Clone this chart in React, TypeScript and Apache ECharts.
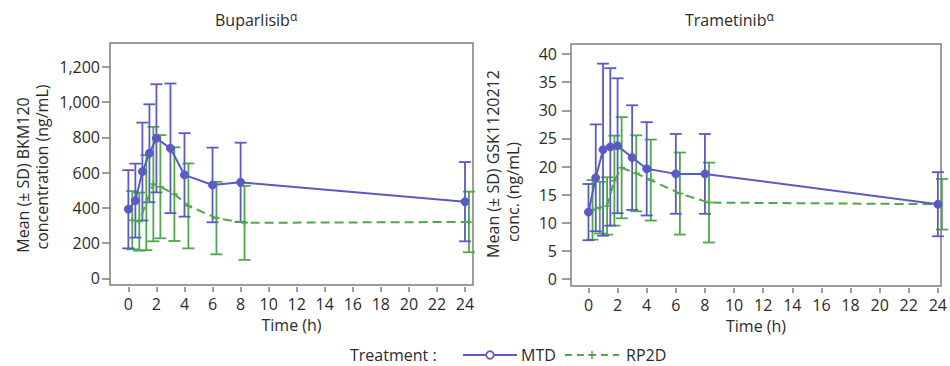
import React, { useEffect, useRef } from "react";
import * as echarts from "echarts";

// ---------- data ----------
const TIMES = [0, 0.5, 1, 1.5, 2, 3, 4, 6, 8, 24];
const X_TICKS = [0, 2, 4, 6, 8, 10, 12, 14, 16, 18, 20, 22, 24];

const BUP_Y_TICKS = [0, 200, 400, 600, 800, 1000, 1200];
const BUP_MTD_MEAN = [392, 441, 606, 710, 795, 738, 587, 530, 545, 435];
const BUP_MTD_SD = [222, 210, 278, 278, 307, 368, 237, 212, 225, 225];
const BUP_RP2D_MEAN = [330, 322, 430, 535, 520, 478, 411, 342, 315, 320];
const BUP_RP2D_SD = [165, 165, 270, 325, 293, 266, 241, 206, 210, 172];

const TRA_Y_TICKS = [0, 5, 10, 15, 20, 25, 30, 35, 40];
const TRA_MTD_MEAN = [11.9, 18.0, 23.0, 23.5, 23.7, 21.6, 19.6, 18.7, 18.7, 13.3];
const TRA_MTD_SD = [5.0, 9.5, 15.3, 14.0, 12.0, 9.3, 8.3, 7.1, 7.1, 5.7];
const TRA_RP2D_MEAN = [12.3, 12.7, 13.0, 17.5, 19.8, 18.8, 17.6, 15.2, 13.6, 13.3];
const TRA_RP2D_SD = [5.3, 4.6, 5.1, 8.0, 9.0, 6.75, 7.2, 7.3, 7.1, 4.5];

const LEGEND_TITLE = "Treatment :";
const LEGEND_NAMES = ["MTD", "RP2D"];

// ---------- style ----------
const BLUE = "#5a5ac6";
const GREEN = "#4ea84a";
const TEXT = "#2b2b2b";
const FRAME = "#7d7d7d";
const FONT = "Open Sans";
const RP2D_DODGE = 0.28;

function errorBars(axis: number, means: number[], sds: number[], dodge: number, color: string, z: number) {
  return {
    type: "custom",
    name: "err",
    xAxisIndex: axis,
    yAxisIndex: axis,
    z,
    encode: { x: 0, y: [1, 2] },
    data: TIMES.map((t, i) => [t + dodge, means[i] - sds[i], means[i] + sds[i]]),
    renderItem: (_p: any, api: any) => {
      const x = api.value(0);
      const top = api.coord([x, api.value(2)]);
      const bot = api.coord([x, api.value(1)]);
      const w = 6;
      const style = { stroke: color, lineWidth: 1.8, fill: "none" };
      return {
        type: "group",
        children: [
          { type: "line", shape: { x1: top[0], y1: top[1], x2: bot[0], y2: bot[1] }, style },
          { type: "line", shape: { x1: top[0] - w, y1: top[1], x2: top[0] + w, y2: top[1] }, style },
          { type: "line", shape: { x1: bot[0] - w, y1: bot[1], x2: bot[0] + w, y2: bot[1] }, style },
        ],
      };
    },
  };
}

function mtdLine(axis: number, means: number[]) {
  return {
    type: "line",
    name: LEGEND_NAMES[0],
    xAxisIndex: axis,
    yAxisIndex: axis,
    z: 5,
    data: TIMES.map((t, i) => [t, means[i]]),
    symbol: "circle",
    symbolSize: 8,
    itemStyle: { color: BLUE, borderColor: BLUE, borderWidth: 1 },
    lineStyle: { color: BLUE, width: 2 },
  };
}

function rp2dLine(axis: number, means: number[]) {
  return {
    type: "line",
    name: LEGEND_NAMES[1],
    xAxisIndex: axis,
    yAxisIndex: axis,
    z: 4,
    data: TIMES.map((t, i) => [t + RP2D_DODGE, means[i]]),
    symbol: "path://M5,0V10M0,5H10",
    symbolSize: 7,
    itemStyle: { color: "none", borderColor: GREEN, borderWidth: 1.5 },
    lineStyle: { color: GREEN, width: 2, type: [9, 5] },
  };
}

const labelStyle = { fontFamily: FONT, fontSize: 16, color: TEXT };

function xAxis(grid: number, min: number, max: number) {
  return {
    type: "value",
    gridIndex: grid,
    min,
    max,
    offset: 2,
    name: "Time (h)",
    nameLocation: "middle",
    nameGap: 30,
    nameTextStyle: labelStyle,
    axisLine: { show: false, onZero: false },
    axisTick: { show: true, length: 5, customValues: X_TICKS, lineStyle: { color: FRAME, width: 1.5 } },
    axisLabel: { ...labelStyle, margin: 9, customValues: X_TICKS },
    splitLine: { show: false },
  };
}

function yAxis(grid: number, min: number, max: number, ticks: number[], tickLen: number, margin: number) {
  return {
    type: "value",
    gridIndex: grid,
    min,
    max,
    axisLine: { show: false, onZero: false },
    axisTick: { show: true, length: tickLen, customValues: ticks, lineStyle: { color: FRAME, width: 1.5 } },
    axisLabel: {
      ...labelStyle,
      margin,
      customValues: ticks,
      formatter: (v: number) => v.toLocaleString("en-US"),
    },
    splitLine: { show: false },
  };
}

function vText(text: string, x: number, y: number) {
  return {
    type: "text",
    x,
    y,
    rotation: Math.PI / 2,
    style: { text, fontFamily: FONT, fontSize: 16, fill: TEXT, align: "center", verticalAlign: "middle" },
  };
}

function hText(text: string, x: number, y: number) {
  return {
    type: "text",
    x,
    y,
    style: { text, fontFamily: FONT, fontSize: 16, lineHeight: 16, fill: TEXT, align: "left", verticalAlign: "middle" },
  };
}

function titleText(name: string, x: number) {
  return {
    type: "text",
    x,
    y: 20,
    style: {
      text: `{a|${name}}{s|α}`,
      align: "left",
      verticalAlign: "middle",
      rich: {
        a: { fontFamily: FONT, fontSize: 16, fill: TEXT, lineHeight: 20 },
        s: { fontFamily: FONT, fontSize: 12, fill: TEXT, verticalAlign: "top", lineHeight: 13 },
      },
    },
  };
}

const LY = 355;

export default function App() {
  const ref = useRef<HTMLDivElement>(null);
  useEffect(() => {
    if (!ref.current) return;
    const chart = echarts.init(ref.current, null, { renderer: "svg" });
    chart.setOption({
      animation: false,
      backgroundColor: "#ffffff",
      grid: [
        { left: 110, top: 43, width: 363, height: 242, show: true, borderColor: FRAME, borderWidth: 1.5, backgroundColor: "transparent" },
        { left: 571, top: 44, width: 375, height: 242, show: true, borderColor: FRAME, borderWidth: 1.5, backgroundColor: "transparent" },
      ],
      xAxis: [xAxis(0, -1.31, 24.57), xAxis(1, -1.2, 24.22)],
      yAxis: [
        yAxis(0, -38, 1336, BUP_Y_TICKS, 8, 10),
        yAxis(1, -1.24, 41.8, TRA_Y_TICKS, 9, 14),
      ],
      graphic: [
        titleText("Buparlisib", 215),
        titleText("Trametinib", 685),
        vText("Mean (± SD) BKM120", 23, 175),
        vText("concentration (ng/mL)", 42, 167),
        vText("Mean (± SD) GSK1120212", 493, 164),
        vText("conc. (ng/mL)", 513, 192),
        hText(LEGEND_TITLE, 350, LY),
        // MTD legend key
        { type: "line", shape: { x1: 463, y1: LY, x2: 517, y2: LY }, style: { stroke: BLUE, lineWidth: 2 } },
        { type: "circle", shape: { cx: 490, cy: LY, r: 3.8 }, style: { fill: "#ffffff", stroke: BLUE, lineWidth: 1.8 } },
        hText(LEGEND_NAMES[0], 521, LY),
        // RP2D legend key
        { type: "line", shape: { x1: 565, y1: LY, x2: 619, y2: LY }, style: { stroke: GREEN, lineWidth: 2, lineDash: [7, 5] } },
        { type: "line", shape: { x1: 592, y1: LY - 4, x2: 592, y2: LY + 4 }, style: { stroke: GREEN, lineWidth: 1.5 } },
        { type: "line", shape: { x1: 588, y1: LY, x2: 596, y2: LY }, style: { stroke: GREEN, lineWidth: 1.5 } },
        hText(LEGEND_NAMES[1], 626, LY),
      ],
      series: [
        errorBars(0, BUP_RP2D_MEAN, BUP_RP2D_SD, RP2D_DODGE, GREEN, 2),
        errorBars(0, BUP_MTD_MEAN, BUP_MTD_SD, 0, BLUE, 3),
        rp2dLine(0, BUP_RP2D_MEAN),
        mtdLine(0, BUP_MTD_MEAN),
        errorBars(1, TRA_RP2D_MEAN, TRA_RP2D_SD, RP2D_DODGE, GREEN, 2),
        errorBars(1, TRA_MTD_MEAN, TRA_MTD_SD, 0, BLUE, 3),
        rp2dLine(1, TRA_RP2D_MEAN),
        mtdLine(1, TRA_MTD_MEAN),
      ],
    });
    return () => chart.dispose();
  }, []);
  return <div ref={ref} style={{ position: "absolute", left: 0, top: 0, width: 950, height: 366 }} />;
}
